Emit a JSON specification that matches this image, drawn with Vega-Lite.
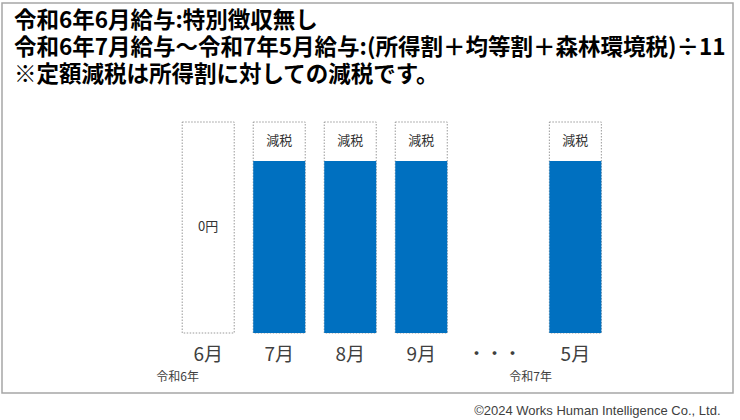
{
  "$schema": "https://vega.github.io/schema/vega-lite/v6.json",
  "width": 731,
  "height": 390,
  "autosize": "none",
  "padding": {"left": 2, "top": 3, "right": 7, "bottom": 27},
  "background": "white",
  "title": {
    "text": ["令和6年6月給与:特別徴収無し", "令和6年7月給与～令和7年5月給与:(所得割＋均等割＋森林環境税)÷11", "※定額減税は所得割に対しての減税です。"],
    "anchor": "start",
    "frame": "group",
    "orient": "top",
    "font": "Noto Sans CJK JP",
    "fontWeight": "bold",
    "fontSize": 22.5,
    "lineHeight": 27,
    "color": "#000000",
    "baseline": "top",
    "offset": 0,
    "dx": 12,
    "dy": 83
  },
  "config": {
    "view": {"stroke": "#a6a6a6", "strokeWidth": 1.5},
    "font": "Noto Sans CJK JP"
  },
  "datasets": {
    "months": [
      {"month": "6月", "pos": 0, "amount": 0, "total": 211},
      {"month": "7月", "pos": 1, "amount": 172, "total": 211},
      {"month": "8月", "pos": 2, "amount": 172, "total": 211},
      {"month": "9月", "pos": 3, "amount": 172, "total": 211},
      {"month": "5月", "pos": 5.17, "amount": 172, "total": 211}
    ],
    "gap": [{"month": "・・・", "pos": 4.03}],
    "years": [
      {"year": "令和6年", "pos": -0.43},
      {"year": "令和7年", "pos": 4.54}
    ]
  },
  "encoding": {
    "x": {
      "field": "pos",
      "type": "quantitative",
      "scale": {"domain": [-2.8333, 7.3194], "nice": false, "zero": false},
      "axis": {
        "title": "©2024 Works Human Intelligence Co., Ltd.",
        "titleFont": "Liberation Sans",
        "titleFontSize": 13,
        "titleFontWeight": "normal",
        "titleColor": "#404040",
        "titleAnchor": "end",
        "titleAlign": "right",
        "titleX": 718,
        "titleY": 17,
        "titleBaseline": "middle",
        "domain": false,
        "ticks": false,
        "labels": false,
        "grid": false
      }
    }
  },
  "layer": [
    {
      "data": {"name": "months"},
      "mark": {"type": "bar", "width": 52, "fill": "white", "stroke": "#9a9a9a", "strokeWidth": 1, "strokeDash": [1.5, 1.5]},
      "encoding": {
        "y": {"field": "total", "type": "quantitative", "scale": {"domain": [-60, 330], "nice": false, "zero": false}, "axis": null},
        "y2": {"datum": 0}
      }
    },
    {
      "data": {"name": "months"},
      "transform": [{"filter": "datum.amount > 0"}],
      "mark": {"type": "bar", "width": 52, "fill": "#0070C0"},
      "encoding": {
        "y": {"field": "amount", "type": "quantitative", "scale": {"domain": [-60, 330], "nice": false, "zero": false}, "axis": null},
        "y2": {"datum": 0}
      }
    },
    {
      "data": {"name": "months"},
      "transform": [{"filter": "datum.amount > 0"}],
      "mark": {"type": "text", "fontSize": 13, "color": "#333333", "baseline": "middle"},
      "encoding": {
        "y": {"datum": 192, "type": "quantitative", "scale": {"domain": [-60, 330], "nice": false, "zero": false}, "axis": null},
        "text": {"value": "減税"}
      }
    },
    {
      "data": {"name": "months"},
      "transform": [{"filter": "datum.amount == 0"}],
      "mark": {"type": "text", "fontSize": 13, "color": "#333333", "baseline": "middle"},
      "encoding": {
        "y": {"datum": 106, "type": "quantitative", "scale": {"domain": [-60, 330], "nice": false, "zero": false}, "axis": null},
        "text": {"value": "0円"}
      }
    },
    {
      "data": {"name": "months"},
      "mark": {"type": "text", "fontSize": 19, "color": "#404040", "baseline": "middle"},
      "encoding": {
        "y": {"datum": -22, "type": "quantitative", "scale": {"domain": [-60, 330], "nice": false, "zero": false}, "axis": null},
        "text": {"field": "month"}
      }
    },
    {
      "data": {"name": "gap"},
      "mark": {"type": "text", "fontSize": 18, "color": "#404040", "baseline": "middle"},
      "encoding": {
        "y": {"datum": -22, "type": "quantitative", "scale": {"domain": [-60, 330], "nice": false, "zero": false}, "axis": null},
        "text": {"field": "month"}
      }
    },
    {
      "data": {"name": "years"},
      "mark": {"type": "text", "fontSize": 12, "color": "#404040", "baseline": "middle"},
      "encoding": {
        "y": {"datum": -44, "type": "quantitative", "scale": {"domain": [-60, 330], "nice": false, "zero": false}, "axis": null},
        "text": {"field": "year"}
      }
    }
  ]
}
